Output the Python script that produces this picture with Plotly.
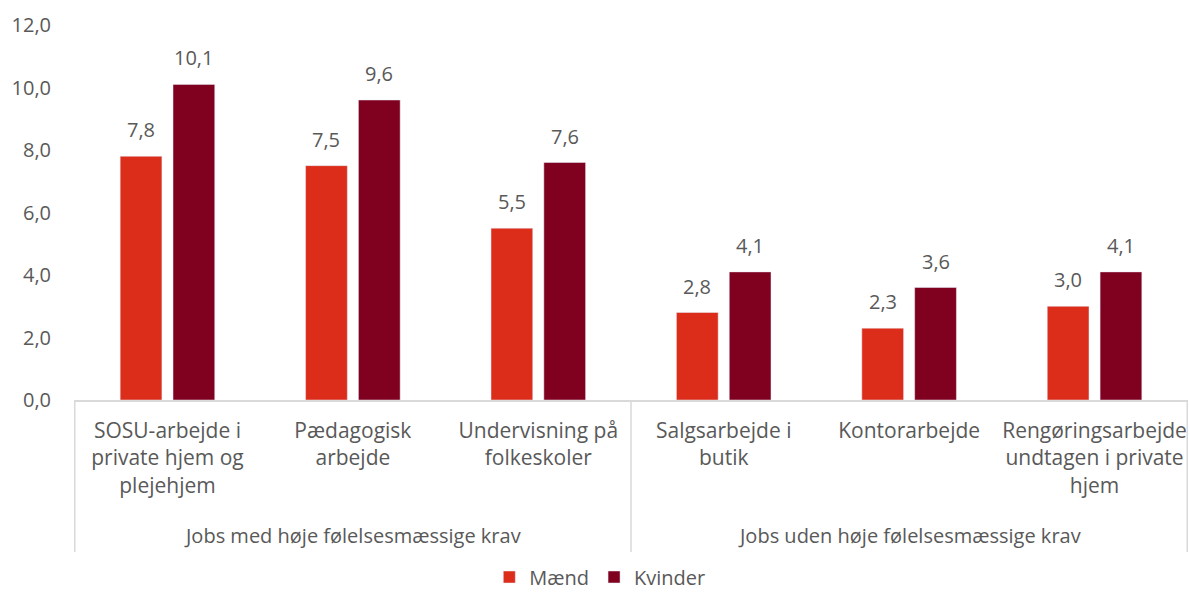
import plotly.graph_objects as go

categories = [
    "SOSU-arbejde i<br>private hjem og<br>plejehjem",
    "Pædagogisk<br>arbejde",
    "Undervisning på<br>folkeskoler",
    "Salgsarbejde i<br>butik",
    "Kontorarbejde",
    "Rengøringsarbejde<br>undtagen i private<br>hjem",
]
cat_ids = ["c0", "c1", "c2", "c3", "c4", "c5"]
groups = ["Jobs med høje følelsesmæssige krav", "Jobs uden høje følelsesmæssige krav"]
group_center_idx = [1, 4]
group_bounds = [-0.5, 2.5, 5.5]

maend = [7.8, 7.5, 5.5, 2.8, 2.3, 3.0]
kvinder = [10.1, 9.6, 7.6, 4.1, 3.6, 4.1]

y_ticks = [0, 2, 4, 6, 8, 10, 12]

TXT = "#595959"
FONT = "Open Sans"
FS = 20

fig = go.Figure()
fig.add_trace(go.Bar(name="Mænd", x=cat_ids, y=maend, marker_color="#DC2C1A"))
fig.add_trace(go.Bar(name="Kvinder", x=cat_ids, y=kvinder, marker_color="#80001F"))

annotations = []
for series, shift in ((maend, -26.5), (kvinder, 26.5)):
    for cid, v in zip(cat_ids, series):
        annotations.append(dict(
            x=cid, y=v, xref="x", yref="y", text=f"{v:.1f}".replace(".", ","),
            showarrow=False, xshift=shift, yshift=11, yanchor="bottom",
            font=dict(family=FONT, size=FS, color=TXT)))
for g, idx in zip(groups, group_center_idx):
    annotations.append(dict(
        x=cat_ids[idx], y=-0.36, xref="x", yref="paper", text=g, showarrow=False,
        yanchor="middle", font=dict(family=FONT, size=FS, color=TXT)))

shapes = []
for b in group_bounds:
    shapes.append(dict(type="line", xref="x", yref="paper", x0=b, x1=b, y0=0, y1=-0.405,
                       line=dict(color="#D9D9D9", width=1.5)))

fig.update_layout(
    width=1190, height=597,
    margin=dict(l=74, r=2, t=25, b=197, autoexpand=False),
    paper_bgcolor="white", plot_bgcolor="white",
    separators=",.",
    barmode="group", bargap=0.43, bargroupgap=0.21,
    font=dict(family=FONT, size=FS, color=TXT),
    xaxis=dict(
        tickmode="array", tickvals=cat_ids, ticktext=categories,
        showline=True, linecolor="#D9D9D9", linewidth=1.5,
        showgrid=False, ticks="", ticklabelstandoff=11, automargin=False,
        tickfont=dict(family=FONT, size=21, color=TXT),
    ),
    yaxis=dict(
        range=[0, 12], tickvals=y_ticks, tickformat=".1f",
        showgrid=False, zeroline=False, showline=False, ticks="",
        ticklabelstandoff=22, automargin=False,
        tickfont=dict(family=FONT, size=FS, color=TXT),
    ),
    legend=dict(orientation="h", x=0.472, xanchor="center", y=-0.524, yanchor="bottom",
                font=dict(family=FONT, size=FS, color=TXT), itemwidth=30),
    annotations=annotations,
    shapes=shapes,
)

fig.write_html("out.html", config={"displayModeBar": False},
               post_script="document.body.style.margin='0';document.body.style.overflow='hidden';")
